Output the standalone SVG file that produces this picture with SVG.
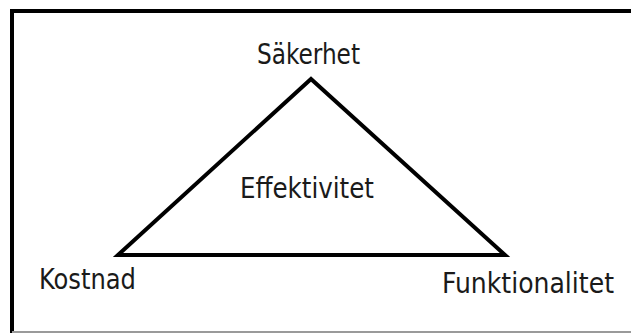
<svg xmlns="http://www.w3.org/2000/svg" width="631" height="333" viewBox="0 0 631 333">
<style>
.lbl{font-family:"DejaVu Sans Condensed","DejaVu Sans",sans-serif;font-size:28px;fill:#1a1a1a}
.tri{fill:none;stroke:#000;stroke-width:4;stroke-linejoin:miter}
</style>
<rect width="631" height="333" fill="#fff"/>
<g id="frame">
<line x1="10" y1="11" x2="631" y2="11" stroke="#000" stroke-width="4"/>
<line x1="12" y1="9" x2="12" y2="333" stroke="#000" stroke-width="4"/>
<line x1="12" y1="332" x2="631" y2="332" stroke="#9a9a9a" stroke-width="2"/>
</g>
<g id="connectors">
<polygon class="tri" points="118,255 311,79 505,255"/>
</g>
<g id="sakerhet"><text class="lbl" x="257" y="64" textLength="103" lengthAdjust="spacingAndGlyphs">Säkerhet</text></g>
<g id="effektivitet"><text class="lbl" x="240" y="198" textLength="134" lengthAdjust="spacingAndGlyphs">Effektivitet</text></g>
<g id="kostnad"><text class="lbl" x="39" y="289" textLength="97" lengthAdjust="spacingAndGlyphs">Kostnad</text></g>
<g id="funktionalitet"><text class="lbl" x="442" y="293" textLength="172" lengthAdjust="spacingAndGlyphs">Funktionalitet</text></g>
</svg>
